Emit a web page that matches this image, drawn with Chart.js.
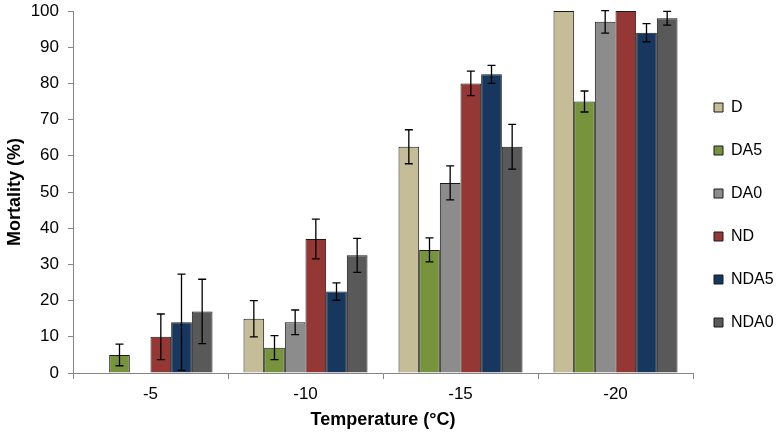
<!DOCTYPE html>
<html>
<head>
<meta charset="utf-8">
<script src="https://cdn.jsdelivr.net/npm/chart.js@4/dist/chart.umd.min.js"></script>
<style>
  html, body { margin: 0; padding: 0; background: #fff; }
  #wrap { width: 779px; height: 437px; }
</style>
</head>
<body>
<div id="wrap"><canvas id="chart"></canvas></div>
<script>
// datos
const temperaturas = ['-5', '-10', '-15', '-20'];
const series = ['D', 'DA5', 'DA0', 'ND', 'NDA5', 'NDA0'];

const valD    = [0, 15, 62.5, 100];
const valDA5  = [5, 7, 34, 75];
const valDA0  = [0, 14, 52.5, 97];
const valND   = [10, 37, 80, 100];
const valNDA5 = [14, 22.5, 82.5, 94];
const valNDA0 = [17, 32.5, 62.5, 98];

const errD    = [0, 5, 4.7, 0];
const errDA5  = [3, 3.3, 3.3, 2.9];
const errDA0  = [0, 3.4, 4.7, 3.1];
const errND   = [6.3, 5.5, 3.4, 0];
const errNDA5 = [13.3, 2.4, 2.5, 2.5];
const errNDA0 = [8.9, 4.7, 6.2, 1.9];

const colores = ['#C4BD97', '#77933C', '#8C8C8C', '#953735', '#17375E', '#595959'];
const valores = [valD, valDA5, valDA0, valND, valNDA5, valNDA0];
const errores = [errD, errDA5, errDA0, errND, errNDA5, errNDA0];

const ejeColor = '#868686';
const fuente = "Arial, 'Liberation Sans', sans-serif";

// barras de error
const barrasError = {
    id: 'barrasError',
    afterDatasetsDraw(chart) {
        const ctx = chart.ctx;
        const y = chart.scales.y;
        const area = chart.chartArea;
        ctx.save();
        ctx.beginPath();
        ctx.rect(area.left, area.top - 1, area.right - area.left, area.bottom - area.top + 1);
        ctx.clip();
        ctx.strokeStyle = '#000';
        ctx.lineWidth = 1.3;
        chart.data.datasets.forEach((ds, i) => {
            const meta = chart.getDatasetMeta(i);
            meta.data.forEach((bar, j) => {
                const e = errores[i][j];
                if (!e) return;
                const v = ds.data[j];
                const yTop = y.getPixelForValue(v + e);
                const yBot = y.getPixelForValue(v - e);
                const x = bar.x;
                ctx.beginPath();
                ctx.moveTo(x, yTop); ctx.lineTo(x, yBot);
                ctx.moveTo(x - 4, yTop); ctx.lineTo(x + 4, yTop);
                ctx.moveTo(x - 4, yBot); ctx.lineTo(x + 4, yBot);
                ctx.stroke();
            });
        });
        ctx.restore();
    }
};

// mover la leyenda un poco a la izquierda y arriba
const ajusteLeyenda = {
    id: 'ajusteLeyenda',
    afterLayout(chart) {
        if (chart.legend) {
            chart.legend.left -= 6;
            chart.legend.right -= 6;
            chart.legend.top -= 9;
            chart.legend.bottom -= 9;
        }
    }
};

new Chart(document.getElementById('chart'), {
    type: 'bar',
    data: {
        labels: temperaturas,
        datasets: series.map((nombre, i) => ({
            label: nombre,
            data: valores[i],
            backgroundColor: colores[i],
            borderColor: '#1a1a1a',
            borderWidth: 1,
            categoryPercentage: 0.8,
            barPercentage: 1
        }))
    },
    options: {
        responsive: true,
        maintainAspectRatio: false,
        animation: false,
        layout: { padding: { top: 11, right: 0, bottom: 0, left: 0 } },
        plugins: {
            legend: {
                position: 'right',
                maxWidth: 86,
                labels: {
                    boxWidth: 9,
                    boxHeight: 9,
                    padding: 27,
                    color: '#000',
                    font: { family: fuente, size: 16 }
                }
            },
            tooltip: { enabled: false }
        },
        scales: {
            x: {
                afterFit: (s) => { s.height = 64; },
                grid: { drawOnChartArea: false, drawTicks: true, tickLength: 6, color: ejeColor },
                border: { color: ejeColor },
                ticks: { color: '#000', padding: 5, font: { family: fuente, size: 17 } },
                title: { display: true, text: 'Temperature (°C)', color: '#000', padding: { top: 0, bottom: 6 },
                         font: { family: fuente, size: 18, weight: 'bold' } }
            },
            y: {
                afterFit: (s) => { s.width = 73; s.paddingTop = 0; s.paddingBottom = 0; },
                min: 0,
                max: 100,
                grid: { drawOnChartArea: false, drawTicks: true, tickLength: 5, color: ejeColor },
                border: { color: ejeColor },
                ticks: { stepSize: 10, color: '#000', padding: 9, font: { family: fuente, size: 17 } },
                title: { display: true, text: 'Mortality (%)', color: '#000', padding: { top: 4, bottom: 5 },
                         font: { family: fuente, size: 18, weight: 'bold' } }
            }
        }
    },
    plugins: [barrasError, ajusteLeyenda]
});
</script>
</body>
</html>
